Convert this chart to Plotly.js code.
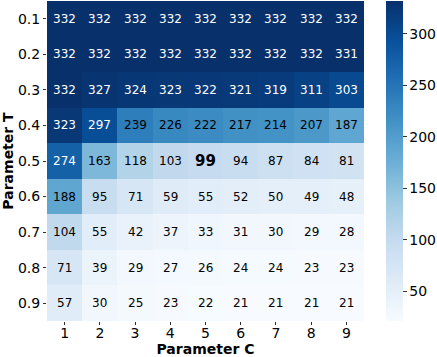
<!DOCTYPE html>
<html>
<head>
<meta charset="utf-8">
<script src="https://cdn.plot.ly/plotly-3.0.1.min.js"></script>
<style>html,body{margin:0;padding:0;background:#fff;}#chart{width:437px;height:357px;}</style>
</head>
<body>
<div id="chart"></div>
<script>
const paramC = ['1','2','3','4','5','6','7','8','9'];
const paramT = ['0.1','0.2','0.3','0.4','0.5','0.6','0.7','0.8','0.9'];
const row01 = [332,332,332,332,332,332,332,332,332];
const row02 = [332,332,332,332,332,332,332,332,331];
const row03 = [332,327,324,323,322,321,319,311,303];
const row04 = [323,297,239,226,222,217,214,207,187];
const row05 = [274,163,118,103,99,94,87,84,81];
const row06 = [188,95,71,59,55,52,50,49,48];
const row07 = [104,55,42,37,33,31,30,29,28];
const row08 = [71,39,29,27,26,24,24,23,23];
const row09 = [57,30,25,23,22,21,21,21,21];
const highlightT = '0.5';
const highlightC = '5';
const colorbarTicks = [50,100,150,200,250,300];

const z = [row01,row02,row03,row04,row05,row06,row07,row08,row09];

const blues = [
  [0.0,'#f7fbff'],[0.125,'#deebf7'],[0.25,'#c6dbef'],[0.375,'#9ecae1'],
  [0.5,'#6baed6'],[0.625,'#4292c6'],[0.75,'#2171b5'],[0.875,'#08519c'],[1.0,'#08306b']
];

const annotations = [];
z.forEach((row, i) => {
  row.forEach((v, j) => {
    const hl = paramT[i] === highlightT && paramC[j] === highlightC;
    annotations.push({
      x: j, y: i, xref: 'x', yref: 'y',
      text: hl ? '<b>' + v + '</b>' : String(v),
      showarrow: false,
      font: {family: 'DejaVu Sans', size: hl ? 15 : 12, color: v > 250 ? '#ffffff' : '#000000'}
    });
  });
});

const trace = {
  type: 'heatmap',
  x: paramC, y: paramT, z: z,
  zmin: 21, zmax: 332,
  colorscale: blues,
  xgap: 0, ygap: 0,
  hoverinfo: 'skip',
  colorbar: {
    thickness: 17, len: 1, lenmode: 'fraction',
    x: 1.069, xanchor: 'left', xpad: 0, y: 0.5, yanchor: 'middle', ypad: 0,
    outlinewidth: 0,
    tickvals: colorbarTicks,
    ticks: 'outside', ticklen: 4, tickcolor: '#333',
    tickfont: {family: 'DejaVu Sans', size: 14, color: '#000'}
  }
};

const layout = {
  width: 437, height: 357,
  margin: {l: 47, r: 73, t: 1, b: 36},
  paper_bgcolor: '#fff', plot_bgcolor: '#fff',
  font: {family: 'DejaVu Sans', color: '#000'},
  xaxis: {
    type: 'category', showgrid: false, zeroline: false,
    ticks: 'outside', ticklen: 3, tickcolor: '#333',
    tickfont: {size: 14}, ticklabelstandoff: -4,
    title: {text: '<b>Parameter C</b>', font: {size: 14}, standoff: 0}
  },
  yaxis: {
    type: 'category', autorange: 'reversed', showgrid: false, zeroline: false,
    ticks: 'outside', ticklen: 3, tickcolor: '#333',
    tickfont: {size: 14},
    title: {text: '<b>Parameter T</b>', font: {size: 14}, standoff: 4}
  },
  annotations: annotations
};

Plotly.newPlot('chart', [trace], layout, {displayModeBar: false, staticPlot: true});
</script>
</body>
</html>
